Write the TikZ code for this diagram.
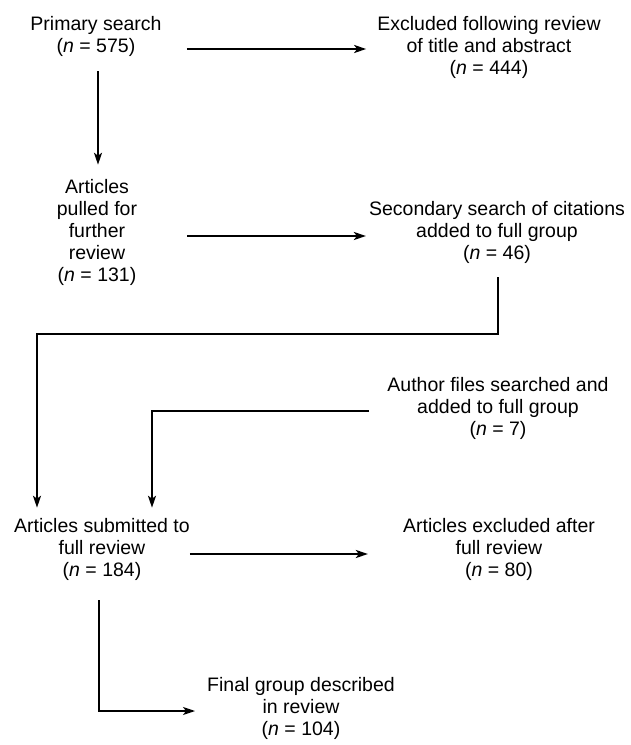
\documentclass[tikz,border=0pt]{standalone}
\usepackage{fontspec}
\setmainfont{Liberation Sans}
\usetikzlibrary{arrows.meta,calc}
\begin{document}
\begin{tikzpicture}[x=1pt,y=-1pt,
  lbl/.style={align=center,font=\fontsize{19.5}{22}\selectfont,inner sep=0pt},
  arr/.style={-{Stealth[length=12pt,width=8pt,inset=3pt]},line width=1.8pt},
  harr/.style={arr,line width=2.2pt},
  varr/.style={arr,line width=1.5pt}]
\useasboundingbox (0,0) rectangle (631,745);
\node[lbl] (prim) at (96,36) {Primary search\\(\textit{n} = 575)};
\node[lbl] (excl) at (489,47) {Excluded following review\\of title and abstract\\(\textit{n} = 444)};
\node[lbl] (pull) at (97,232) {Articles\\pulled for\\further\\review\\(\textit{n} = 131)};
\node[lbl] (sec) at (497,232) {Secondary search of citations\\added to full group\\(\textit{n} = 46)};
\node[lbl] (auth) at (498,408) {Author files searched and\\added to full group\\(\textit{n} = 7)};
\node[lbl] (sub) at (102,549) {Articles submitted to\\full review\\(\textit{n} = 184)};
\node[lbl] (exc2) at (499,549) {Articles excluded after\\full review\\(\textit{n} = 80)};
\node[lbl] (fin) at (301,708) {Final group described\\in review\\(\textit{n} = 104)};
% connectors
\draw[harr] ($(prim.east)+(25,13)$) -- ($(excl.west)+(-11,2)$);
\draw[varr] ($(prim.south)+(2,15)$) -- ($(pull.north)+(1,-14)$);
\draw[harr] ($(pull.east)+(50,4)$) -- ($(sec.west)+(-3,4)$);
\draw[arr] ($(sec.south)+(1,14)$) -- ++(0,57) -| ($(sub.north)+(-65,-10)$);
\draw[arr] ($(auth.west)+(-18,3)$) -| ($(sub.north)+(50,-10)$);
\draw[harr] ($(sub.east)+(0,5)$) -- ($(exc2.west)+(-35,5)$);
\draw[arr] ($(sub.south)+(-3,20)$) |- ($(fin.west)+(-12,3)$);
\end{tikzpicture}
\end{document}
